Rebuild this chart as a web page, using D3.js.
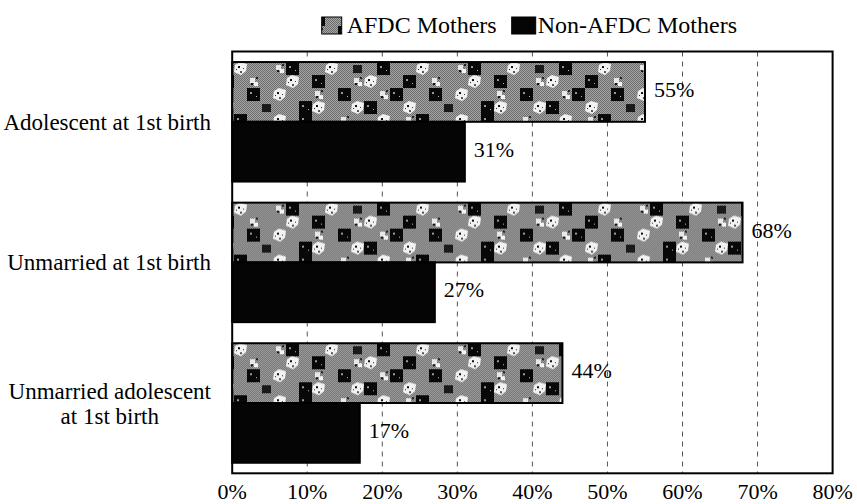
<!DOCTYPE html>
<html>
<head>
<meta charset="utf-8">
<script src="https://cdn.jsdelivr.net/npm/d3@7.9.0/dist/d3.min.js"></script>
<style>
  body { margin: 0; background: #fff; }
  svg { display: block; font-family: "Liberation Serif", "Times New Roman", serif; }
</style>
</head>
<body>
<svg id="chart" width="857" height="504"></svg>
<script>
// chart data
const categories = [
  ['Adolescent at 1st birth'],
  ['Unmarried at 1st birth'],
  ['Unmarried adolescent', 'at 1st birth'],
];
const seriesNames = ['AFDC Mothers', 'Non-AFDC Mothers'];
const afdcValues = [55, 68, 44];
const nonAfdcValues = [31, 27, 17];
const tickValues = [0, 10, 20, 30, 40, 50, 60, 70, 80];

// texture map for the AFDC bars
// B = black block, b = smaller dark patch, W = white blotch, w = small white speck, . = gray
const textureRows = [
  '.B..W..wB..W.b',
  'W..B.w..W.B..w',
  '.wB..B.W..w.B.',
  'B..W..b..BW..W',
  '.W.wB..W.B..w.',
];

const svg = d3.select('#chart');
const plot = { left: 232.2, right: 832.6, top: 51.5, bottom: 473.3 };

const x = d3.scaleLinear().domain([0, 80]).range([plot.left, plot.right]);
const y = d3.scaleBand()
  .domain(d3.range(categories.length))
  .range([plot.top, plot.bottom])
  .paddingInner(0.15)
  .paddingOuter(0.075);
const sub = d3.scaleBand().domain([0, 1]).range([0, y.bandwidth()]);

// patterns
const defs = svg.append('defs');
const dither = defs.append('pattern')
  .attr('id', 'dither')
  .attr('patternUnits', 'userSpaceOnUse')
  .attr('width', 2).attr('height', 2);
dither.append('rect').attr('width', 2).attr('height', 2).attr('fill', '#a8a8a8');
dither.append('rect').attr('width', 1).attr('height', 1).attr('fill', '#6a6a6a');
dither.append('rect').attr('x', 1).attr('y', 1).attr('width', 1).attr('height', 1).attr('fill', '#6a6a6a');

const cell = 13;
const cols = textureRows[0].length;
const tex = defs.append('pattern')
  .attr('id', 'afdc')
  .attr('patternUnits', 'userSpaceOnUse')
  .attr('width', cell * cols)
  .attr('height', cell * textureRows.length);
tex.append('rect')
  .attr('width', cell * cols)
  .attr('height', cell * textureRows.length)
  .attr('fill', 'url(#dither)');

function speck(g, px, py, s, fill) {
  g.append('rect').attr('x', px).attr('y', py).attr('width', s).attr('height', s).attr('fill', fill);
}

textureRows.forEach((row, r) => {
  row.split('').forEach((c, i) => {
    const cx = i * cell, cy = r * cell;
    if (c === 'B') {
      tex.append('rect')
        .attr('x', cx).attr('y', cy)
        .attr('width', cell).attr('height', cell)
        .attr('fill', '#080808');
      speck(tex, cx + 3, cy + 4, 2, '#9a9a9a');
      speck(tex, cx + 9, cy + 8, 1, '#bbb');
    } else if (c === 'b') {
      tex.append('rect')
        .attr('x', cx + 2).attr('y', cy + 3)
        .attr('width', cell - 4).attr('height', cell - 5)
        .attr('fill', '#1a1a1a');
    } else if (c === 'W') {
      tex.append('path')
        .attr('d', `M${cx + 1},${cy + 3} L${cx + 6},${cy} L${cx + 13},${cy + 2} L${cx + 12},${cy + 9} L${cx + 7},${cy + 13} L${cx},${cy + 10}Z`)
        .attr('fill', '#f2f2f2');
      speck(tex, cx + 4, cy + 4, 2, '#111');
      speck(tex, cx + 9, cy + 6, 1, '#333');
      speck(tex, cx + 6, cy + 9, 2, '#555');
      speck(tex, cx + 2, cy + 7, 1, '#222');
    } else if (c === 'w') {
      speck(tex, cx + 3, cy + 3, 5, '#e8e8e8');
      speck(tex, cx + 7, cy + 7, 4, '#f4f4f4');
      speck(tex, cx + 4, cy + 8, 2, '#111');
      speck(tex, cx + 9, cy + 2, 2, '#222');
    }
  });
});

// gridlines
svg.append('g')
  .selectAll('line')
  .data(tickValues.slice(1, -1))
  .join('line')
  .attr('x1', d => x(d)).attr('x2', d => x(d))
  .attr('y1', plot.top).attr('y2', plot.bottom)
  .attr('stroke', '#555')
  .attr('stroke-width', 1)
  .attr('stroke-dasharray', '5,5');

// bars
const groups = svg.append('g')
  .selectAll('g')
  .data(categories.map((c, i) => ({ i, values: [afdcValues[i], nonAfdcValues[i]] })))
  .join('g')
  .attr('transform', d => `translate(0,${y(d.i)})`);

groups.selectAll('rect')
  .data(d => d.values.map((v, s) => ({ v, s })))
  .join('rect')
  .attr('x', x(0))
  .attr('y', d => sub(d.s))
  .attr('width', d => x(d.v) - x(0))
  .attr('height', sub.bandwidth())
  .attr('fill', d => d.s === 0 ? 'url(#afdc)' : '#050505')
  .attr('stroke', '#000')
  .attr('stroke-width', 2);

groups.selectAll('text')
  .data(d => d.values.map((v, s) => ({ v, s })))
  .join('text')
  .attr('x', d => x(d.v) + 9)
  .attr('y', d => sub(d.s) + sub.bandwidth() / 2 + 5)
  .attr('font-size', 22)
  .attr('fill', '#000')
  .text(d => d.v + '%');

// frame
svg.append('rect')
  .attr('x', plot.left).attr('y', plot.top)
  .attr('width', plot.right - plot.left)
  .attr('height', plot.bottom - plot.top)
  .attr('fill', 'none')
  .attr('stroke', '#000')
  .attr('stroke-width', 2);

// x tick labels
svg.append('g')
  .selectAll('text')
  .data(tickValues)
  .join('text')
  .attr('x', d => x(d))
  .attr('y', 499)
  .attr('text-anchor', 'middle')
  .attr('font-size', 22)
  .text(d => d + '%');

// category labels
const catLabels = svg.append('g')
  .selectAll('text')
  .data(categories)
  .join('text')
  .attr('font-size', 23)
  .attr('text-anchor', 'middle');

catLabels.each(function (lines, i) {
  const t = d3.select(this);
  const lh = 25;
  const cy = y(i) + y.bandwidth() / 2;
  const y0 = cy - (lines.length - 1) * lh / 2 + 8;
  lines.forEach((line, k) => {
    t.append('tspan').attr('y', y0 + k * lh).text(line);
  });
  const w = d3.max(t.selectAll('tspan').nodes(), n => n.getComputedTextLength());
  t.selectAll('tspan').attr('x', 211 - w / 2);
});

// legend
const legend = svg.append('g');
const legendX = [321.7, 511.7];
seriesNames.forEach((name, s) => {
  legend.append('rect')
    .attr('x', legendX[s]).attr('y', 17)
    .attr('width', s === 0 ? 20 : 24).attr('height', 17)
    .attr('fill', s === 0 ? 'url(#afdc)' : '#050505')
    .attr('stroke', '#000')
    .attr('stroke-width', 1);
  legend.append('text')
    .attr('x', legendX[s] + (s === 0 ? 25 : 26))
    .attr('y', 33)
    .attr('font-size', 24)
    .text(name);
});
</script>
</body>
</html>
